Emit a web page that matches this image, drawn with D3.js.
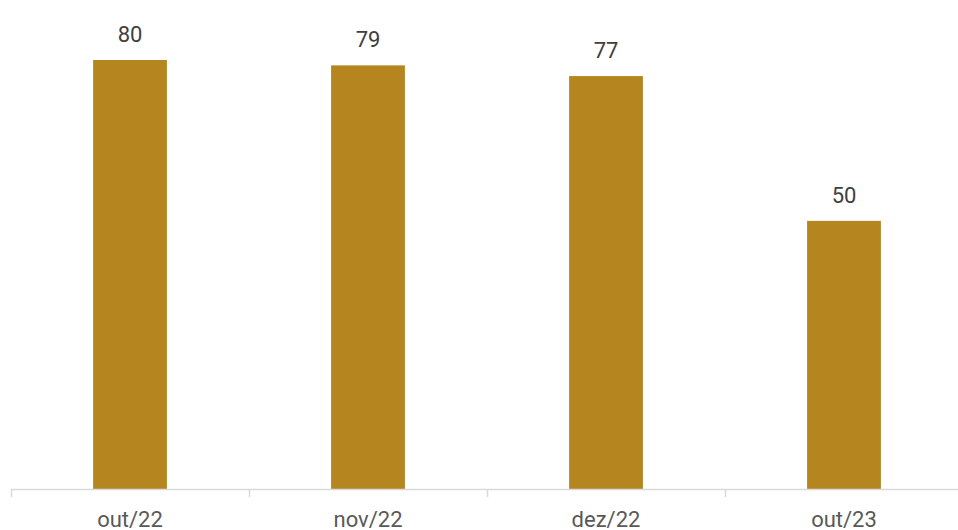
<!DOCTYPE html>
<html>
<head>
<meta charset="utf-8">
<script src="https://cdn.jsdelivr.net/npm/d3@7"></script>
<style>
  body { margin: 0; background: #fff; }
  text { font-family: Roboto, sans-serif; }
</style>
</head>
<body>
<div id="chart"></div>
<script>
const categories = ["out/22", "nov/22", "dez/22", "out/23"];
const values = [80, 79, 77, 50];

const width = 958, height = 530;
const margin = { top: 60, right: -5, bottom: 41, left: 11 };

const svg = d3.select("#chart")
    .append("svg")
    .attr("width", width)
    .attr("height", height);

const x = d3.scaleBand()
    .domain(categories)
    .range([margin.left, width - margin.right])
    .paddingInner(0.69)
    .paddingOuter(0.345);

const y = d3.scaleLinear()
    .domain([0, 80])
    .range([height - margin.bottom, margin.top]);

// bars
svg.append("g")
    .selectAll("rect")
    .data(values)
    .join("rect")
    .attr("x", (d, i) => x(categories[i]))
    .attr("y", d => y(d))
    .attr("width", x.bandwidth())
    .attr("height", d => y(0) - y(d))
    .attr("fill", "#B5851F");

// value labels
svg.append("g")
    .selectAll("text")
    .data(values)
    .join("text")
    .attr("x", (d, i) => x(categories[i]) + x.bandwidth() / 2)
    .attr("y", d => y(d) - 18)
    .attr("text-anchor", "middle")
    .attr("font-size", 22)
    .attr("fill", "#404040")
    .text(d => d);

// x axis with ticks between categories
const step = x.step();
const axisG = svg.append("g");
axisG.append("line")
    .attr("x1", margin.left).attr("x2", width)
    .attr("y1", y(0) + 0.5).attr("y2", y(0) + 0.5)
    .attr("stroke", "#D9D9D9").attr("stroke-width", 1.5);
axisG.selectAll("line.tick")
    .data(d3.range(categories.length + 1))
    .join("line")
    .attr("class", "tick")
    .attr("x1", i => margin.left + i * step + 0.5)
    .attr("x2", i => margin.left + i * step + 0.5)
    .attr("y1", y(0)).attr("y2", y(0) + 8)
    .attr("stroke", "#D9D9D9").attr("stroke-width", 1.5);
axisG.selectAll("text")
    .data(categories)
    .join("text")
    .attr("x", d => x(d) + x.bandwidth() / 2)
    .attr("y", y(0) + 38)
    .attr("text-anchor", "middle")
    .attr("font-size", 22)
    .attr("fill", "#595959")
    .text(d => d);
</script>
</body>
</html>
